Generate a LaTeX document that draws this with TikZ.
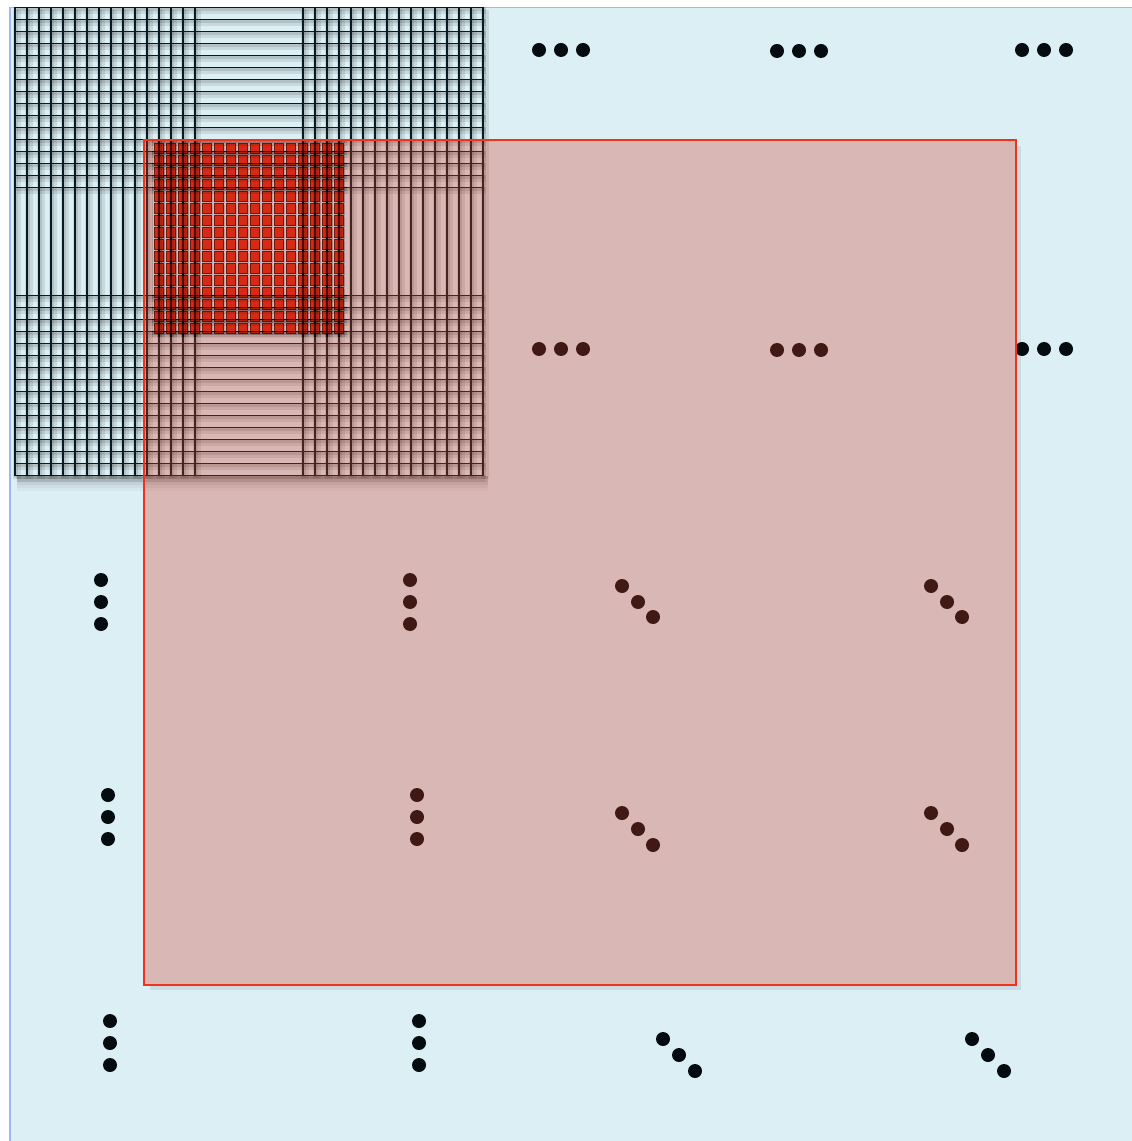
\documentclass[tikz,border=0pt]{standalone}
\definecolor{bgblue}{RGB}{220,239,245}
\definecolor{bgedge}{RGB}{160,184,236}
\definecolor{gridline}{RGB}{8,26,34}
\definecolor{redfill}{RGB}{207,56,32}
\definecolor{redline}{RGB}{240,52,28}
\definecolor{sqred}{RGB}{214,42,20}
\definecolor{sqedge}{RGB}{110,24,14}
\definecolor{dotcol}{RGB}{4,12,16}
\def\gidx{0,1,2,3,4,5,6,7,8,9,10,11,12,13,14,15,24,25,26,27,28,29,30,31,32,33,34,35,36,37,38,39}
\tikzset{
  gshadowA/.style={line width=4.5pt, black, opacity=0.09},
  gshadowB/.style={line width=2.2pt, black, opacity=0.11},
  gline/.style={line width=0.7pt, draw=gridline},
  dot/.style={fill=dotcol},
  sqcell/.style={fill=sqred, draw=sqedge, line width=0.45pt},
}
\newcommand\biggrid[3]{% #1 shadowA, #2 shadowB, #3 line style
  \foreach \k in \gidx {
    \pgfmathsetmacro\xx{15+12*\k}
    \pgfmathsetmacro\yy{7.5+12*\k}
    \draw[#1] (\xx+2,10) -- (\xx+2,479);
    \draw[#1] (17,\yy+3) -- (486,\yy+3);
    \draw[#2] (\xx+1,9) -- (\xx+1,477);
    \draw[#2] (16,\yy+1.5) -- (484.5,\yy+1.5);
  }
  \foreach \k in \gidx {
    \pgfmathsetmacro\xx{15+12*\k}
    \pgfmathsetmacro\yy{7.5+12*\k}
    \draw[#3] (\xx,7.5) -- (\xx,475.5);
    \draw[#3] (15,\yy) -- (483,\yy);
  }
}
\begin{document}
\begin{tikzpicture}[x=0.02cm,y=-0.02cm]
\useasboundingbox (0,0) rectangle (1131,1141);
\fill[white] (0,0) rectangle (1131,1141);
% background panel
\draw[fill=bgblue, draw=bgedge, line width=0.8pt] (10,7.5) rectangle (1140,1150);
% grid drop shadow
\foreach \d/\o in {3/0.06,6/0.05,9/0.05,12/0.04,15/0.03} {
  \fill[black, opacity=\o] (17,476) rectangle (488,476+\d);
}
% big grid
\biggrid{gshadowA}{gshadowB}{gline}
% dots
\foreach \x/\y in {539/50,561/50,583/50, 777/51,799/51,821/51, 1022/50,1044/50,1066/50,
                   539/349,561/349,583/349, 777/350,799/350,821/350, 1022/349,1044/349,1066/349,
                   101/580,101/602,101/624, 410/580,410/602,410/624,
                   108/795,108/817,108/839, 417/795,417/817,417/839,
                   110/1021,110/1043,110/1065, 419/1021,419/1043,419/1065,
                   622/586,638/602,653/617, 931/586,947/602,962/617,
                   622/813,638/829,653/845, 931/813,947/829,962/845,
                   663/1039,679/1055,695/1071, 972/1039,988/1055,1004/1071} {
  \fill[dot] (\x,\y) circle[radius=7];
}
% red panel shadow
\fill[black, opacity=0.08] (1016,146) rectangle (1021,990);
\fill[black, opacity=0.08] (150,985) rectangle (1016,990);
% red panel
\draw[draw=redline, line width=0.9pt, fill=redfill, fill opacity=0.3] (144,140) rectangle (1016,985);
% red squares
\foreach \i in {0,...,15} {
  \foreach \j in {0,...,15} {
    \fill[black, opacity=0.12] (155+12*\i,145+12*\j) rectangle +(10.4,10.4);
    \draw[sqcell] (154.2+12*\i,143.7+12*\j) rectangle +(9.6,9.6);
  }
}
% grid over the red squares
\begin{scope}
  \clip (152,142) rectangle (347,337);
  \biggrid{gshadowA}{gshadowB}{line width=0.7pt, draw=black, opacity=0.55}
\end{scope}
\end{tikzpicture}
\end{document}
